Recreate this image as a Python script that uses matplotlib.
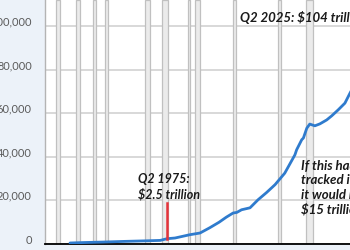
import matplotlib
matplotlib.use("Agg")
import matplotlib.pyplot as plt
import matplotlib.transforms as mtransforms

# ---- data (billions of dollars) ----
years = [1952.1, 1955.0, 1960.0, 1965.0, 1970.0, 1973.4, 1975.0, 1976.9, 1980.4,
         1982.8, 1985.1, 1987.3, 1989.0, 1990.6, 1991.5, 1992.6, 1994.6,
         1996.5, 1998.5, 2000.5, 2002.8, 2005.2, 2005.6, 2006.8, 2007.2, 2008.0,
         2008.7, 2009.9, 2011.1, 2012.7, 2013.9, 2015.4, 2017.0, 2018.2, 2019.5,
         2021.0, 2023.0, 2025.4]
debt = [460, 650, 900, 1200, 1450, 1650, 2430, 2750, 4260,
        5040, 7460, 9990, 12300, 14200, 14500, 15700, 16600,
        20300, 23600, 27200, 32500, 40900, 43200, 47800, 48600, 53100,
        55000, 54200, 55100, 56900, 58800, 61500, 64600, 69200, 74000,
        86000, 96000, 104000]

recessions = [(1948.9, 1949.8), (1953.5, 1954.4), (1957.6, 1958.3), (1960.3, 1961.1),
              (1969.9, 1970.9), (1973.9, 1975.2), (1980.0, 1980.5), (1981.5, 1982.9),
              (1990.5, 1991.2), (2001.2, 2001.9), (2007.9, 2009.5), (2020.1, 2020.3)]

yticks = [0, 20000, 40000, 60000, 80000, 100000]
ytick_labels = ["0", "20,000", "40,000", "60,000", "80,000", "100,000"]

marker_year = 1975.1
marker_range = [2500, 18900]

label_1975 = "Q2 1975:\n$2.5 trillion"
label_2025 = "Q2 2025: $104 trillion"
label_infl = "If this had\ntracked inflation,\nit would be\n$15 trillion"

# ---- figure ----
W, H = 350, 250
fig = plt.figure(figsize=(W / 100, H / 100), dpi=100)
fig.patch.set_facecolor("#ecf2f9")
ax = fig.add_axes([45 / W, 6 / H, (W - 45) / W, (H - 6) / H])
ax.set_facecolor("white")
ax.set_xlim(1946.2, 2018.2)
ax.set_ylim(0, 111900)

for a, b in recessions:
    ax.axvspan(a, b, facecolor="#ebebeb", edgecolor="#c0c0c0", lw=0.9, zorder=1)

ax.set_yticks(yticks)
ax.set_yticklabels(ytick_labels)
ax.yaxis.grid(True, color="#d2d2d2", lw=1.2, zorder=0)
ax.set_axisbelow(True)
ax.tick_params(axis="y", length=0, pad=9.5, labelsize=7.9, labelcolor="#5a5a5a")
ax.tick_params(axis="x", length=0, labelbottom=False)
for lab in ax.get_yticklabels():
    lab.set_fontfamily("Lato")
    lab.set_transform(lab.get_transform() +
                      mtransforms.ScaledTranslation(0, 5 / 100, fig.dpi_scale_trans))

ax.spines["top"].set_visible(False)
ax.spines["right"].set_visible(False)
ax.spines["left"].set_color("#b4b4b4")
ax.spines["left"].set_linewidth(1.0)
ax.spines["bottom"].set_color("black")
ax.spines["bottom"].set_linewidth(1.3)

ax.plot(years, debt, color="#2f7bcd", lw=2.0, zorder=4, solid_capstyle="round")
ax.plot([marker_year, marker_year], marker_range, color="#e5333a", lw=1.8, zorder=5)

tkw = dict(fontfamily="Lato", fontweight="bold", fontstyle="italic",
           color="#1a1a1a", zorder=6)
ax.text(1968.2, 26250, label_1975, ha="left", va="center", linespacing=1.25,
        fontsize=9, **tkw)
ax.text(1992.2, 104000, label_2025, ha="left", va="center", clip_on=False,
        fontsize=9.5, **tkw)
ax.text(2006.6, 25800, label_infl, ha="left", va="center", linespacing=1.25,
        clip_on=False, fontsize=9.5, **tkw)

fig.savefig("out.png", dpi=100, facecolor=fig.get_facecolor())
